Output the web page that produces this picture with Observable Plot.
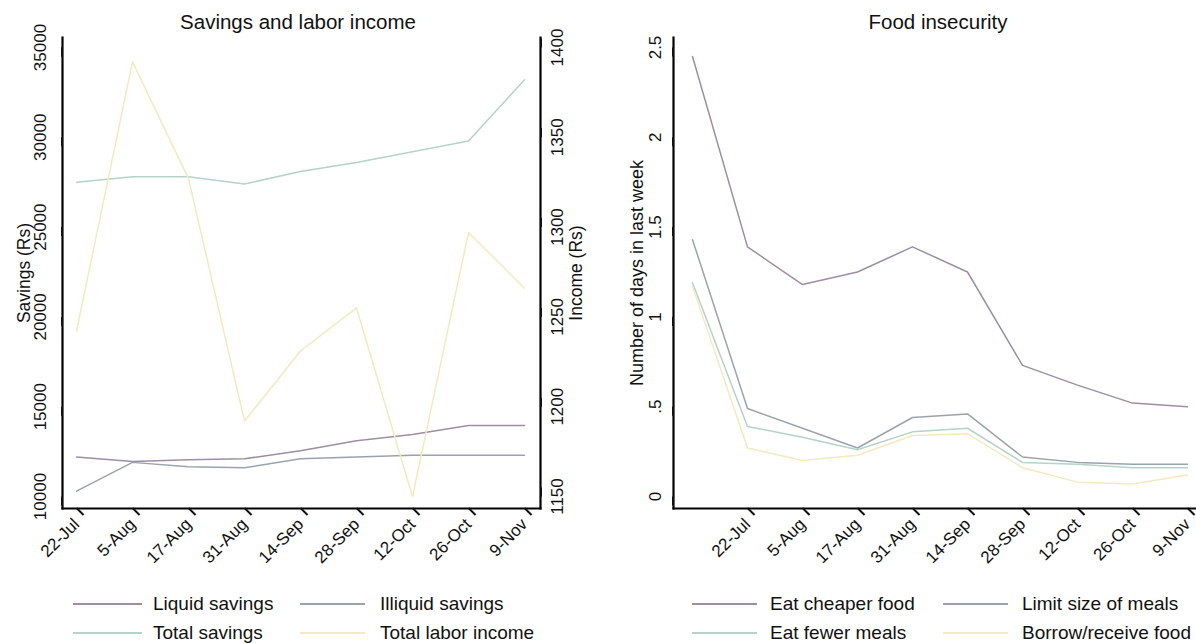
<!DOCTYPE html>
<html>
<head>
<meta charset="utf-8">
<script src="https://cdn.jsdelivr.net/npm/d3@7"></script>
<script src="https://cdn.jsdelivr.net/npm/@observablehq/plot@0.6"></script>
<style>
  body { margin: 0; background: #fff; font-family: "Liberation Sans", Arial, sans-serif; }
  #wrap { position: relative; width: 1196px; height: 644px; overflow: hidden; background: #fff; }
  .layer { position: absolute; top: 0; }
  .title { position: absolute; top: 10px; font-size: 20.5px; color: #111; transform: translateX(-50%); white-space: nowrap; line-height: 24px; }
  .lg-line { position: absolute; height: 2px; }
  .lg-text { position: absolute; font-size: 19px; color: #111; line-height: 20px; white-space: nowrap; }
</style>
</head>
<body>
<div id="wrap"></div>
<script>
// ---------- data ----------
const savingsDates = ["22-Jul", "5-Aug", "17-Aug", "31-Aug", "14-Sep", "28-Sep", "12-Oct", "26-Oct", "9-Nov"];
const liquidSavings   = [12200, 11950, 12050, 12100, 12550, 13100, 13450, 13950, 13950];
const illiquidSavings = [10300, 11900, 11650, 11600, 12100, 12200, 12300, 12300, 12300];
const totalSavings    = [27500, 27800, 27800, 27400, 28100, 28600, 29200, 29800, 33200];
const laborIncome     = [1242, 1392, 1327, 1192, 1231, 1255, 1150, 1297, 1266];

const foodCats = ["Baseline", ...savingsDates];
const eatCheaper   = [2.45, 1.39, 1.18, 1.25, 1.39, 1.25, 0.73, 0.62, 0.52, 0.50];
const limitSize    = [1.43, 0.49, 0.38, 0.27, 0.44, 0.46, 0.22, 0.19, 0.18, 0.18];
const eatFewer     = [1.19, 0.39, 0.33, 0.26, 0.36, 0.38, 0.19, 0.18, 0.16, 0.16];
const borrowFood   = [1.17, 0.27, 0.20, 0.23, 0.34, 0.35, 0.16, 0.08, 0.07, 0.12];

const savingsTicks = [10000, 15000, 20000, 25000, 30000, 35000];
const incomeTicks = [1150, 1200, 1250, 1300, 1350, 1400];
const foodTicks = [0, 0.5, 1, 1.5, 2, 2.5];

const leftSeries = ["Liquid savings", "Illiquid savings", "Total savings", "Total labor income"];
const rightSeries = ["Eat cheaper food", "Limit size of meals", "Eat fewer meals", "Borrow/receive food"];
const colors = ["#9d8ea3", "#9aa3ad", "#b5d3c6", "#f3eac0"];

// ---------- helpers ----------
const toRows = (cats, vals) => cats.map((c, i) => ({date: c, value: vals[i]}));
const font = {background: "transparent", fontFamily: "Liberation Sans, Arial, sans-serif", fontSize: "17px", color: "#111", overflow: "visible"};
const W = 598, H = 580;
const wrap = document.getElementById("wrap");

function place(el, left) {
  el.classList.add("layer");
  el.style.left = left + "px";
  wrap.appendChild(el);
}

// ---------- left panel: savings ----------
const leftGeom = {width: W, height: H, marginTop: 37, marginBottom: 72, marginLeft: 62, marginRight: 58,
  insetTop: 10, insetBottom: 12, insetLeft: 11, insetRight: 13};

const savingsPlot = Plot.plot({
  ...leftGeom,
  style: font,
  x: {type: "point", domain: savingsDates, padding: 0},
  y: {domain: [10000, 35000]},
  marks: [
    Plot.frame({anchor: "left", stroke: "#000", strokeWidth: 2.2}),
    Plot.frame({anchor: "bottom", stroke: "#000", strokeWidth: 2.2}),
    Plot.frame({anchor: "right", stroke: "#000", strokeWidth: 2.2}),
    Plot.axisY({anchor: "left", ticks: savingsTicks, tickSize: 9, tickPadding: 13, tickFormat: d3.format("d"),
      rotate: -90, textAnchor: "middle", lineAnchor: "middle", label: null, strokeWidth: 2}),
    Plot.axisX({anchor: "bottom", ticks: savingsDates, tickSize: 10, tickPadding: 3, rotate: -45,
      textAnchor: "end", lineAnchor: "middle", label: null, strokeWidth: 2}),
    Plot.text(["Savings (Rs)"], {frameAnchor: "left", dx: -38, rotate: -90, textAnchor: "middle", text: d => d, fontSize: 17.5, fill: "#111"}),
    Plot.lineY(toRows(savingsDates, liquidSavings), {x: "date", y: "value", stroke: colors[0], strokeWidth: 1.5}),
    Plot.lineY(toRows(savingsDates, illiquidSavings), {x: "date", y: "value", stroke: colors[1], strokeWidth: 1.5}),
    Plot.lineY(toRows(savingsDates, totalSavings), {x: "date", y: "value", stroke: colors[2], strokeWidth: 1.5})
  ]
});
place(savingsPlot, 0);

const incomePlot = Plot.plot({
  ...leftGeom,
  style: font,
  x: {type: "point", domain: savingsDates, padding: 0, axis: null},
  y: {domain: [1150, 1400]},
  marks: [
    Plot.axisY({anchor: "right", ticks: incomeTicks, tickSize: 9, tickPadding: 8, tickFormat: d3.format("d"),
      rotate: -90, textAnchor: "middle", lineAnchor: "middle", label: null, strokeWidth: 2}),
    Plot.text(["Income (Rs)"], {frameAnchor: "right", dx: 36, rotate: -90, textAnchor: "middle", text: d => d, fontSize: 17.5, fill: "#111"}),
    Plot.lineY(toRows(savingsDates, laborIncome), {x: "date", y: "value", stroke: colors[3], strokeWidth: 1.5})
  ]
});
place(incomePlot, 0);

// ---------- right panel: food insecurity ----------
const foodPlot = Plot.plot({
  width: W, height: H, marginTop: 37, marginBottom: 72, marginLeft: 75, marginRight: 0,
  insetTop: 10, insetBottom: 12, insetLeft: 15, insetRight: 6,
  style: font,
  x: {type: "point", domain: foodCats, padding: 0},
  y: {domain: [0, 2.5]},
  marks: [
    Plot.frame({anchor: "left", stroke: "#000", strokeWidth: 2.2}),
    Plot.frame({anchor: "bottom", stroke: "#000", strokeWidth: 2.2}),
    Plot.axisY({anchor: "left", ticks: foodTicks, tickSize: 9, tickPadding: 9,
      tickFormat: d => d === 0 ? "0" : String(d).replace(/^0/, ""),
      rotate: -90, textAnchor: "middle", lineAnchor: "middle", label: null, strokeWidth: 2}),
    Plot.axisX({anchor: "bottom", ticks: savingsDates, tickSize: 10, tickPadding: 3, rotate: -45,
      textAnchor: "end", lineAnchor: "middle", label: null, strokeWidth: 2}),
    Plot.text(["Number of days in last week"], {frameAnchor: "left", dx: -36, rotate: -90, textAnchor: "middle", text: d => d, fontSize: 18, fill: "#111"}),
    Plot.lineY(toRows(foodCats, eatCheaper), {x: "date", y: "value", stroke: colors[0], strokeWidth: 1.5}),
    Plot.lineY(toRows(foodCats, limitSize), {x: "date", y: "value", stroke: colors[1], strokeWidth: 1.5}),
    Plot.lineY(toRows(foodCats, eatFewer), {x: "date", y: "value", stroke: colors[2], strokeWidth: 1.5}),
    Plot.lineY(toRows(foodCats, borrowFood), {x: "date", y: "value", stroke: colors[3], strokeWidth: 1.5})
  ]
});
place(foodPlot, 598);

// ---------- titles ----------
function title(text, cx) {
  const d = document.createElement("div");
  d.className = "title";
  d.textContent = text;
  d.style.left = cx + "px";
  wrap.appendChild(d);
}
title("Savings and labor income", 298);
title("Food insecurity", 938);

// ---------- legends ----------
function legend(names, lineXs, textXs) {
  const rows = [604, 633];
  names.forEach((name, i) => {
    const col = i % 2, row = Math.floor(i / 2);
    const ln = document.createElement("div");
    ln.className = "lg-line";
    ln.style.left = lineXs[col][0] + "px";
    ln.style.width = (lineXs[col][1] - lineXs[col][0]) + "px";
    ln.style.top = (rows[row] - 1) + "px";
    ln.style.background = colors[i];
    wrap.appendChild(ln);
    const tx = document.createElement("div");
    tx.className = "lg-text";
    tx.textContent = name;
    tx.style.left = textXs[col] + "px";
    tx.style.top = (rows[row] - 10) + "px";
    wrap.appendChild(tx);
  });
}
legend(leftSeries, [[73, 142], [300, 365]], [153, 380]);
legend(rightSeries, [[692, 757], [943, 1008]], [770, 1022]);
</script>
</body>
</html>
